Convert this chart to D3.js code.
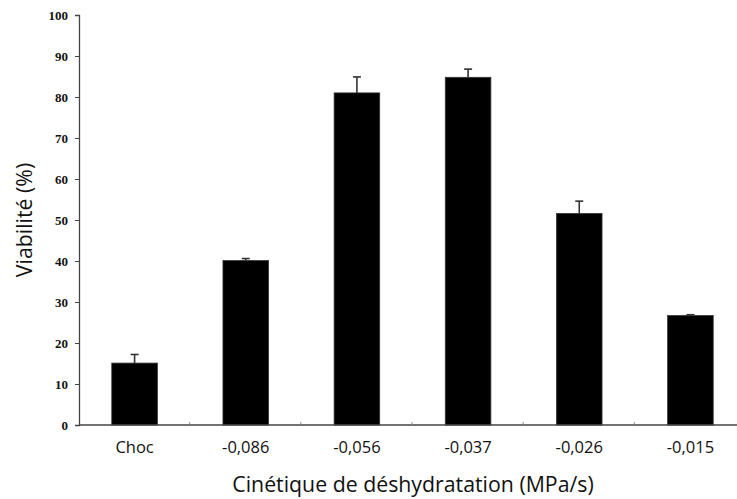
<!DOCTYPE html>
<html>
<head>
<meta charset="utf-8">
<script src="https://cdn.jsdelivr.net/npm/d3@7"></script>
<style>
    body { margin: 0; background: #fff; }
    svg { display: block; }
    .yAxis text { font-family: "Liberation Serif", serif; font-weight: bold; font-size: 13px; }
    .xAxis text { font-family: "Open Sans", sans-serif; font-size: 16.5px; }
    .title { font-family: "Open Sans", sans-serif; font-size: 21.3px; fill: #111; }
</style>
</head>
<body>
<div id="chart"></div>
<script>
const categories = ["Choc", "-0,086", "-0,056", "-0,037", "-0,026", "-0,015"];
const viability = [15.1, 40.1, 81.0, 84.8, 51.6, 26.7];
const errors = [2.1, 0.5, 3.9, 2.0, 3.0, 0.2];
const yTicks = [0, 10, 20, 30, 40, 50, 60, 70, 80, 90, 100];

const width = 737, height = 499;
const margin = { top: 15, bottom: 74, left: 79, right: -9 };

const svg = d3.select("#chart").append("svg")
    .attr("width", width)
    .attr("height", height);

const x = d3.scaleBand()
    .domain(categories)
    .range([margin.left, width - margin.right])
    .paddingInner(0.59)
    .paddingOuter(0.295);

const y = d3.scaleLinear()
    .domain([0, 100])
    .range([height - margin.bottom, margin.top]);

// bars
svg.selectAll(".bar")
    .data(categories)
    .join("rect")
    .attr("class", "bar")
    .attr("x", d => x(d))
    .attr("y", (d, i) => y(viability[i]))
    .attr("width", x.bandwidth())
    .attr("height", (d, i) => y(0) - y(viability[i]))
    .attr("fill", "#000")
    .attr("stroke", "#333")
    .attr("stroke-width", 0.8);

// error bars (upper only)
const err = svg.selectAll(".err")
    .data(categories)
    .join("g")
    .attr("class", "err")
    .attr("stroke", "#333")
    .attr("stroke-width", 1.6);

err.append("line")
    .attr("x1", d => x(d) + x.bandwidth() / 2)
    .attr("x2", d => x(d) + x.bandwidth() / 2)
    .attr("y1", (d, i) => y(viability[i]))
    .attr("y2", (d, i) => y(viability[i] + errors[i]));

err.append("line")
    .attr("x1", d => x(d) + x.bandwidth() / 2 - 4)
    .attr("x2", d => x(d) + x.bandwidth() / 2 + 4)
    .attr("y1", (d, i) => y(viability[i] + errors[i]))
    .attr("y2", (d, i) => y(viability[i] + errors[i]));

// axes
const yAxis = svg.append("g")
    .attr("class", "yAxis")
    .attr("transform", "translate(" + margin.left + ",0)")
    .call(d3.axisLeft(y).tickValues(yTicks).tickSize(4).tickPadding(7));
yAxis.select(".domain").attr("stroke", "#444").attr("stroke-width", 1.3);
yAxis.selectAll(".tick line").attr("stroke", "#444");
yAxis.selectAll("text").attr("fill", "#111");

// category separators on the x axis
const step = x.step();
const xAxis = svg.append("g")
    .attr("class", "xAxis")
    .attr("transform", "translate(0," + y(0) + ")");
xAxis.append("line")
    .attr("x1", margin.left)
    .attr("x2", width - margin.right)
    .attr("stroke", "#444")
    .attr("stroke-width", 1.3);
xAxis.selectAll(".sep")
    .data(categories.slice(1))
    .join("line")
    .attr("class", "sep")
    .attr("x1", d => x(d) - step * 0.295 - 0.5)
    .attr("x2", d => x(d) - step * 0.295 - 0.5)
    .attr("y1", 0)
    .attr("y2", -3)
    .attr("stroke", "#888");
xAxis.selectAll(".lab")
    .data(categories)
    .join("text")
    .attr("class", "lab")
    .attr("x", d => x(d) + x.bandwidth() / 2)
    .attr("y", 28)
    .attr("text-anchor", "middle")
    .attr("fill", "#111")
    .text(d => d);

// titles
svg.append("text")
    .attr("class", "title")
    .attr("transform", "translate(32,220) rotate(-90)")
    .attr("text-anchor", "middle")
    .text("Viabilité (%)");

svg.append("text")
    .attr("class", "title")
    .attr("x", 413)
    .attr("y", 492)
    .attr("text-anchor", "middle")
    .text("Cinétique de déshydratation (MPa/s)");
</script>
</body>
</html>
